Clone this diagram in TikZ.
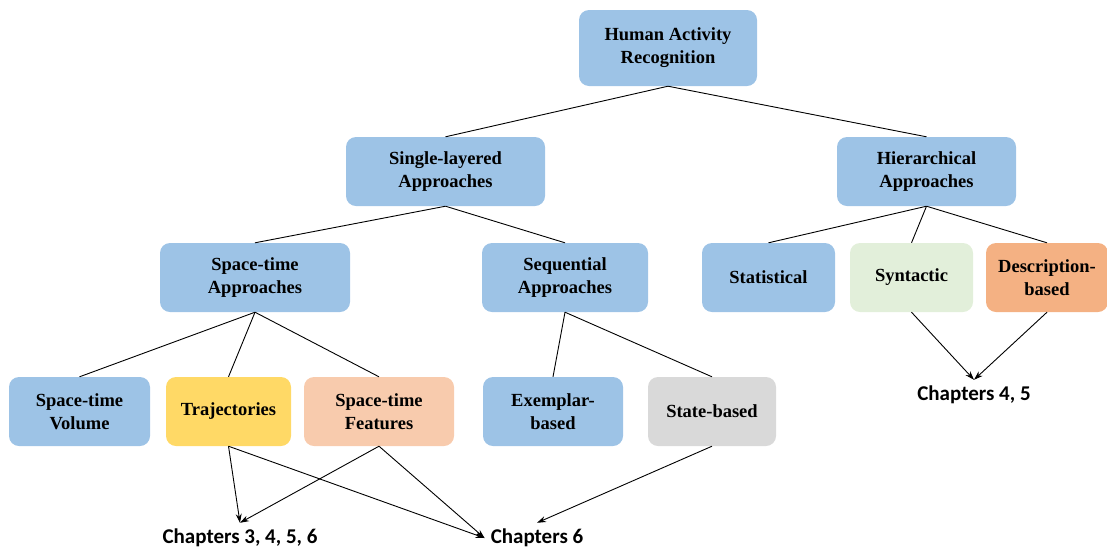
\documentclass[tikz,border=0pt]{standalone}
\usepackage{fontspec}
\setmainfont{Liberation Serif}
\newfontfamily\chapfont{Carlito}
\usetikzlibrary{positioning,arrows.meta}
\definecolor{boxblue}{HTML}{9DC3E6}
\definecolor{boxyellow}{HTML}{FFD966}
\definecolor{boxpeach}{HTML}{F8CBAD}
\definecolor{boxgreen}{HTML}{E2EFDA}
\definecolor{boxorange}{HTML}{F4B183}
\definecolor{boxgray}{HTML}{D9D9D9}
\tikzset{
  box/.style={fill=#1, rounded corners=10pt, align=center, inner sep=0pt,
    minimum height=69pt, font=\bfseries\fontsize{18.5}{23}\selectfont},
  chap/.style={font=\chapfont\bfseries\fontsize{21}{24}\selectfont, inner sep=6pt},
  link/.style={line width=0.9pt},
  ref/.style={line width=0.9pt, -{Stealth[length=9pt,width=6pt]}}
}
\begin{document}
\begin{tikzpicture}[x=1pt, y=-1pt]
\useasboundingbox (0,0) rectangle (1107,550);
% top levels
\node[box=boxblue, minimum width=178pt, minimum height=76pt] (har) at (668,48) {Human Activity\\Recognition};
\node[box=boxblue, minimum width=199pt] (single) at (445.5,171.5) {Single-layered\\Approaches};
\node[box=boxblue, minimum width=179pt] (hier) at (926.5,171.5) {Hierarchical\\Approaches};
% third level
\node[box=boxblue, minimum width=190pt] (spacetime) at (255,277.5) {Space-time\\Approaches};
\node[box=boxblue, minimum width=166pt] (seq) at (565,277.5) {Sequential\\Approaches};
\node[box=boxblue, minimum width=133pt] (stat) at (768.5,277.5) {Statistical};
\node[box=boxgreen, minimum width=123pt] (synt) at (911.5,277.5) {Syntactic};
\node[box=boxorange, minimum width=122pt] (desc) at (1047,277.5) {Description-\\based};
% leaves
\node[box=boxblue, minimum width=141pt] (volume) at (79.5,411.5) {Space-time\\Volume};
\node[box=boxyellow, minimum width=125pt] (traj) at (228.5,411.5) {Trajectories};
\node[box=boxpeach, minimum width=150pt] (feat) at (379,411.5) {Space-time\\Features};
\node[box=boxblue, minimum width=140pt] (exem) at (553,411.5) {Exemplar-\\based};
\node[box=boxgray, minimum width=128pt] (state) at (712,411.5) {State-based};
% chapters
\node[chap] (c3456) at (240,538) {Chapters 3, 4, 5, 6};
\node[chap] (c6) at (537,538) {Chapters 6};
\node[chap] (c45) at (974,395) {Chapters 4, 5};

\draw[link] (har.south) -- (single.north);
\draw[link] (har.south) -- (hier.north);
\draw[link] (single.south) -- (spacetime.north);
\draw[link] (single.south) -- (seq.north);
\draw[link] (hier.south) -- (stat.north);
\draw[link] (hier.south) -- (synt.north);
\draw[link] (hier.south) -- (desc.north);
\draw[link] (spacetime.south) -- (volume.north);
\draw[link] (spacetime.south) -- (traj.north);
\draw[link] (spacetime.south) -- (feat.north);
\draw[link] (seq.south) -- (exem.north);
\draw[link] (seq.south) -- (state.north);

\draw[ref] (traj.south) -- (c3456.north);
\draw[ref] (traj.south) -- (c6.west);
\draw[ref] (feat.south) -- (c3456.north);
\draw[ref] (feat.south) -- (c6.west);
\draw[ref] (state.south) -- (c6.north);
\draw[ref] (synt.south) -- (c45.north);
\draw[ref] (desc.south) -- (c45.north);
\end{tikzpicture}
\end{document}
